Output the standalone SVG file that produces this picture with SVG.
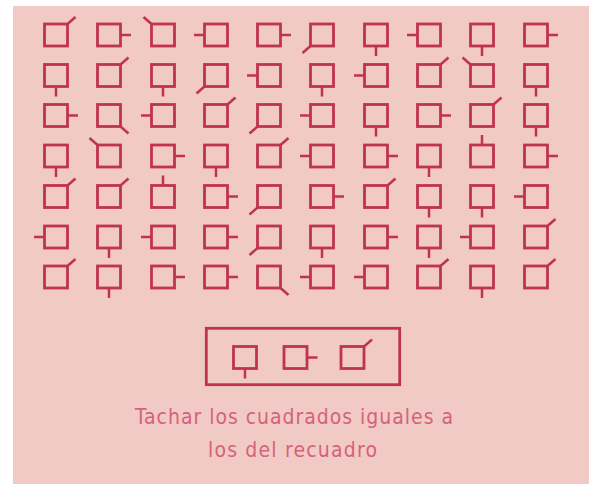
<svg xmlns="http://www.w3.org/2000/svg" xmlns:xlink="http://www.w3.org/1999/xlink" width="589" height="484" viewBox="0 0 589 484">
<style>
.sq{fill:none;stroke:#c0334f;stroke-width:2.8;stroke-linecap:square}
.tk{fill:none;stroke:#c0334f;stroke-width:2.5;stroke-linecap:butt}
.frame{fill:none;stroke:#c0334f;stroke-width:2.8}
.lbl{font-family:"Liberation Sans Narrow","DejaVu Sans Condensed","Liberation Sans",Arial,sans-serif;font-size:21px;fill:#d5627b;text-anchor:middle}
</style>
<defs>
<rect id="box" class="sq" x="-11.5" y="-11" width="23" height="22"/>
<g id="R"><use xlink:href="#box" href="#box"/><path class="tk" d="M11.5,0H22"/></g>
<g id="L"><use xlink:href="#box" href="#box"/><path class="tk" d="M-11.5,0H-22"/></g>
<g id="T"><use xlink:href="#box" href="#box"/><path class="tk" d="M0,-11V-21"/></g>
<g id="B"><use xlink:href="#box" href="#box"/><path class="tk" d="M0,11V21"/></g>
<g id="TR"><use xlink:href="#box" href="#box"/><path class="tk" d="M11.5,-11l8,-7"/></g>
<g id="TL"><use xlink:href="#box" href="#box"/><path class="tk" d="M-11.5,-11l-8,-7"/></g>
<g id="BR"><use xlink:href="#box" href="#box"/><path class="tk" d="M11.5,11l8,7"/></g>
<g id="BL"><use xlink:href="#box" href="#box"/><path class="tk" d="M-11.5,11l-8,7"/></g>
</defs>
<rect x="0" y="0" width="589" height="484" fill="#ffffff"/>
<rect x="13" y="6" width="576" height="478" fill="#f2cac5"/>
<g id="grid">
<!-- row 1 -->
<g id="r1c1"><use href="#TR" xlink:href="#TR" x="56" y="35"/></g>
<g id="r1c2"><use href="#R" xlink:href="#R" x="109" y="35"/></g>
<g id="r1c3"><use href="#TL" xlink:href="#TL" x="163" y="35"/></g>
<g id="r1c4"><use href="#L" xlink:href="#L" x="216" y="35"/></g>
<g id="r1c5"><use href="#R" xlink:href="#R" x="269" y="35"/></g>
<g id="r1c6"><use href="#BL" xlink:href="#BL" x="322" y="35"/></g>
<g id="r1c7"><use href="#B" xlink:href="#B" x="376" y="35"/></g>
<g id="r1c8"><use href="#L" xlink:href="#L" x="429" y="35"/></g>
<g id="r1c9"><use href="#B" xlink:href="#B" x="482" y="35"/></g>
<g id="r1c10"><use href="#R" xlink:href="#R" x="536" y="35"/></g>
<!-- row 2 -->
<g id="r2c1"><use href="#B" xlink:href="#B" x="56" y="75.5"/></g>
<g id="r2c2"><use href="#TR" xlink:href="#TR" x="109" y="75.5"/></g>
<g id="r2c3"><use href="#B" xlink:href="#B" x="163" y="75.5"/></g>
<g id="r2c4"><use href="#BL" xlink:href="#BL" x="216" y="75.5"/></g>
<g id="r2c5"><use href="#L" xlink:href="#L" x="269" y="75.5"/></g>
<g id="r2c6"><use href="#B" xlink:href="#B" x="322" y="75.5"/></g>
<g id="r2c7"><use href="#L" xlink:href="#L" x="376" y="75.5"/></g>
<g id="r2c8"><use href="#TR" xlink:href="#TR" x="429" y="75.5"/></g>
<g id="r2c9"><use href="#TL" xlink:href="#TL" x="482" y="75.5"/></g>
<g id="r2c10"><use href="#B" xlink:href="#B" x="536" y="75.5"/></g>
<!-- row 3 -->
<g id="r3c1"><use href="#R" xlink:href="#R" x="56" y="115.5"/></g>
<g id="r3c2"><use href="#BR" xlink:href="#BR" x="109" y="115.5"/></g>
<g id="r3c3"><use href="#L" xlink:href="#L" x="163" y="115.5"/></g>
<g id="r3c4"><use href="#TR" xlink:href="#TR" x="216" y="115.5"/></g>
<g id="r3c5"><use href="#BL" xlink:href="#BL" x="269" y="115.5"/></g>
<g id="r3c6"><use href="#L" xlink:href="#L" x="322" y="115.5"/></g>
<g id="r3c7"><use href="#B" xlink:href="#B" x="376" y="115.5"/></g>
<g id="r3c8"><use href="#R" xlink:href="#R" x="429" y="115.5"/></g>
<g id="r3c9"><use href="#TR" xlink:href="#TR" x="482" y="115.5"/></g>
<g id="r3c10"><use href="#B" xlink:href="#B" x="536" y="115.5"/></g>
<!-- row 4 -->
<g id="r4c1"><use href="#B" xlink:href="#B" x="56" y="156"/></g>
<g id="r4c2"><use href="#TL" xlink:href="#TL" x="109" y="156"/></g>
<g id="r4c3"><use href="#R" xlink:href="#R" x="163" y="156"/></g>
<g id="r4c4"><use href="#B" xlink:href="#B" x="216" y="156"/></g>
<g id="r4c5"><use href="#TR" xlink:href="#TR" x="269" y="156"/></g>
<g id="r4c6"><use href="#L" xlink:href="#L" x="322" y="156"/></g>
<g id="r4c7"><use href="#R" xlink:href="#R" x="376" y="156"/></g>
<g id="r4c8"><use href="#B" xlink:href="#B" x="429" y="156"/></g>
<g id="r4c9"><use href="#T" xlink:href="#T" x="482" y="156"/></g>
<g id="r4c10"><use href="#R" xlink:href="#R" x="536" y="156"/></g>
<!-- row 5 -->
<g id="r5c1"><use href="#TR" xlink:href="#TR" x="56" y="196.5"/></g>
<g id="r5c2"><use href="#TR" xlink:href="#TR" x="109" y="196.5"/></g>
<g id="r5c3"><use href="#T" xlink:href="#T" x="163" y="196.5"/></g>
<g id="r5c4"><use href="#R" xlink:href="#R" x="216" y="196.5"/></g>
<g id="r5c5"><use href="#BL" xlink:href="#BL" x="269" y="196.5"/></g>
<g id="r5c6"><use href="#R" xlink:href="#R" x="322" y="196.5"/></g>
<g id="r5c7"><use href="#TR" xlink:href="#TR" x="376" y="196.5"/></g>
<g id="r5c8"><use href="#B" xlink:href="#B" x="429" y="196.5"/></g>
<g id="r5c9"><use href="#B" xlink:href="#B" x="482" y="196.5"/></g>
<g id="r5c10"><use href="#L" xlink:href="#L" x="536" y="196.5"/></g>
<!-- row 6 -->
<g id="r6c1"><use href="#L" xlink:href="#L" x="56" y="237"/></g>
<g id="r6c2"><use href="#B" xlink:href="#B" x="109" y="237"/></g>
<g id="r6c3"><use href="#L" xlink:href="#L" x="163" y="237"/></g>
<g id="r6c4"><use href="#R" xlink:href="#R" x="216" y="237"/></g>
<g id="r6c5"><use href="#BL" xlink:href="#BL" x="269" y="237"/></g>
<g id="r6c6"><use href="#B" xlink:href="#B" x="322" y="237"/></g>
<g id="r6c7"><use href="#R" xlink:href="#R" x="376" y="237"/></g>
<g id="r6c8"><use href="#B" xlink:href="#B" x="429" y="237"/></g>
<g id="r6c9"><use href="#L" xlink:href="#L" x="482" y="237"/></g>
<g id="r6c10"><use href="#TR" xlink:href="#TR" x="536" y="237"/></g>
<!-- row 7 -->
<g id="r7c1"><use href="#TR" xlink:href="#TR" x="56" y="277"/></g>
<g id="r7c2"><use href="#B" xlink:href="#B" x="109" y="277"/></g>
<g id="r7c3"><use href="#R" xlink:href="#R" x="163" y="277"/></g>
<g id="r7c4"><use href="#R" xlink:href="#R" x="216" y="277"/></g>
<g id="r7c5"><use href="#BR" xlink:href="#BR" x="269" y="277"/></g>
<g id="r7c6"><use href="#L" xlink:href="#L" x="322" y="277"/></g>
<g id="r7c7"><use href="#L" xlink:href="#L" x="376" y="277"/></g>
<g id="r7c8"><use href="#TR" xlink:href="#TR" x="429" y="277"/></g>
<g id="r7c9"><use href="#B" xlink:href="#B" x="482" y="277"/></g>
<g id="r7c10"><use href="#TR" xlink:href="#TR" x="536" y="277"/></g>
</g>
<g id="legend">
<rect class="frame" x="206.3" y="328.3" width="193.4" height="56.4"/>
<g id="legend-1"><use href="#B" xlink:href="#B" x="245" y="357.5"/></g>
<g id="legend-2"><use href="#R" xlink:href="#R" x="295.5" y="357.5"/></g>
<g id="legend-3"><use href="#TR" xlink:href="#TR" x="352.5" y="357.5"/></g>
</g>
<g id="caption">
<text class="lbl" x="294" y="424" textLength="318" lengthAdjust="spacing">Tachar los cuadrados iguales a</text>
<text class="lbl" x="292.5" y="457" textLength="169" lengthAdjust="spacing">los del recuadro</text>
</g>
</svg>
